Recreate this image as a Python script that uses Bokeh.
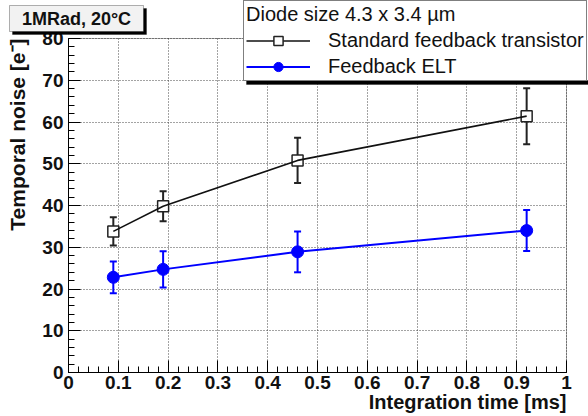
from math import pi
from bokeh.plotting import figure
from bokeh.models import (ColumnDataSource, FixedTicker, Whisker, TeeHead, Label,
                          BoxAnnotation, Legend, LegendItem, Range1d)
from bokeh.embed import file_html
from bokeh.resources import INLINE

# ---- data ----
x_time = [0.09, 0.19, 0.46, 0.92]
noise_standard = [33.8, 39.8, 50.8, 61.4]
err_standard = [3.4, 3.6, 5.4, 6.7]
noise_elt = [22.8, 24.7, 28.9, 34.0]
err_elt = [3.8, 4.35, 4.9, 4.9]

x_ticks = [0, 0.1, 0.2, 0.3, 0.4, 0.5, 0.6, 0.7, 0.8, 0.9, 1]
x_tick_labels = ["0", "0.1", "0.2", "0.3", "0.4", "0.5", "0.6", "0.7", "0.8", "0.9", "1"]
y_ticks = [0, 10, 20, 30, 40, 50, 60, 70, 80]
y_tick_labels = ["0", "10", "20", "30", "40", "50", "60", "70", "80"]
x_minor_step = 0.02
y_minor_step = 2

series_names = ["Standard feedback transistor", "Feedback ELT"]
legend_title = "Diode size 4.3 x 3.4 \u00b5m"
box_title = "1MRad, 20\u00b0C"
x_title = "Integration time [ms]"
y_title = "Temporal noise [e\u207b]"

FONT = "Liberation Sans"
W, H = 588, 416
# frame placement in pixels (plot area of the axes)
FL, FR, FT, FB = 68, 566, 38, 372
XMIN, XMAX = x_ticks[0], x_ticks[-1]
YMIN, YMAX = y_ticks[0], y_ticks[-1]
sx = (FR - FL) / (XMAX - XMIN)
sy = (FB - FT) / (YMAX - YMIN)

src_std = ColumnDataSource(dict(
    x=x_time, y=noise_standard,
    upper=[v + e for v, e in zip(noise_standard, err_standard)],
    lower=[v - e for v, e in zip(noise_standard, err_standard)]))
src_elt = ColumnDataSource(dict(
    x=x_time, y=noise_elt,
    upper=[v + e for v, e in zip(noise_elt, err_elt)],
    lower=[v - e for v, e in zip(noise_elt, err_elt)]))

p = figure(width=W, height=H,
           x_range=Range1d(XMIN - FL / sx, XMAX + (W - FR) / sx),
           y_range=Range1d(YMIN - (H - FB) / sy, YMAX + FT / sy),
           output_backend="svg", toolbar_location=None,
           min_border=0, min_border_left=0, min_border_right=0,
           min_border_top=0, min_border_bottom=0)
p.background_fill_color = "white"
p.border_fill_color = "white"
p.outline_line_color = None

# axes, pinned at the data origin so the plot area can hold the overlays
nmx = int(round((XMAX - XMIN) / x_minor_step))
nmy = int(round((YMAX - YMIN) / y_minor_step))
minor_x = [XMIN + i * x_minor_step for i in range(nmx + 1)]
minor_y = [YMIN + i * y_minor_step for i in range(nmy + 1)]
p.xaxis.fixed_location = YMIN
p.yaxis.fixed_location = XMIN
p.xaxis.bounds = (XMIN, XMAX)
p.yaxis.bounds = (YMIN, YMAX)
p.xaxis.ticker = FixedTicker(ticks=x_ticks, minor_ticks=minor_x)
p.yaxis.ticker = FixedTicker(ticks=y_ticks, minor_ticks=minor_y)
p.xaxis.major_label_overrides = {t: l for t, l in zip(x_ticks, x_tick_labels)}
p.yaxis.major_label_overrides = {t: l for t, l in zip(y_ticks, y_tick_labels)}
for ax in (p.xaxis[0], p.yaxis[0]):
    ax.axis_line_color = "black"
    ax.axis_line_width = 1
    ax.major_tick_in = 12
    ax.major_tick_out = 0
    ax.minor_tick_in = 6
    ax.minor_tick_out = 0
    ax.major_tick_line_color = "black"
    ax.minor_tick_line_color = "black"
    ax.major_label_text_font = FONT
    ax.major_label_text_font_style = "bold"
    ax.major_label_text_font_size = "19px"
    ax.major_label_text_color = "#111111"
p.xaxis.major_label_standoff = 3
p.yaxis.major_label_standoff = 5

# grid, limited to the plot area
p.xgrid.ticker = FixedTicker(ticks=x_ticks)
p.ygrid.ticker = FixedTicker(ticks=y_ticks)
p.xgrid.bounds = (XMIN, XMAX)
p.ygrid.bounds = (YMIN, YMAX)
use_segments = True
try:
    p.xgrid.cross_bounds = (YMIN, YMAX)
    p.ygrid.cross_bounds = (XMIN, XMAX)
    use_segments = False
except Exception:
    pass
for g in (p.xgrid[0], p.ygrid[0]):
    g.grid_line_color = "#333333"
    g.grid_line_dash = "1 2"
    g.grid_line_width = 1
    g.grid_line_alpha = 0.9
if use_segments:
    p.xgrid.visible = False
    p.ygrid.visible = False
    p.segment(x0=x_ticks, x1=x_ticks, y0=[YMIN] * len(x_ticks), y1=[YMAX] * len(x_ticks),
              line_color="#333333", line_dash="1 2", line_alpha=0.9, level="underlay")
    p.segment(x0=[XMIN] * len(y_ticks), x1=[XMAX] * len(y_ticks), y0=y_ticks, y1=y_ticks,
              line_color="#333333", line_dash="1 2", line_alpha=0.9, level="underlay")

# frame box (top/right edges)
p.add_layout(BoxAnnotation(left=XMIN, right=XMAX, bottom=YMIN, top=YMAX,
                           fill_alpha=0, line_color="black", line_width=1,
                           level="underlay"))

# error bars (below markers)
p.add_layout(Whisker(source=src_std, base="x", upper="upper", lower="lower",
                     line_color="#222222", line_width=2, level="underlay",
                     upper_head=TeeHead(size=7, line_color="#222222", line_width=2),
                     lower_head=TeeHead(size=7, line_color="#222222", line_width=2)))
p.add_layout(Whisker(source=src_elt, base="x", upper="upper", lower="lower",
                     line_color="#0000ff", line_width=2, level="underlay",
                     upper_head=TeeHead(size=7, line_color="#0000ff", line_width=2),
                     lower_head=TeeHead(size=7, line_color="#0000ff", line_width=2)))

sq = p.scatter("x", "y", source=src_std, marker="square", size=11,
               fill_color="white", line_color="#222222", line_width=1.5)
ln_std = p.line("x", "y", source=src_std, line_color="#111111", line_width=1.6)
ln_elt = p.line("x", "y", source=src_elt, line_color="#0000ff", line_width=2)
ci = p.scatter("x", "y", source=src_elt, marker="circle", size=12,
               fill_color="#0000ff", line_color="#0000ff")

def cbox(l, r, t, b, **kw):
    return BoxAnnotation(left=l, right=r, top=t, bottom=b,
                         left_units="canvas", right_units="canvas",
                         top_units="canvas", bottom_units="canvas", **kw)

# title box with shadow
p.add_layout(cbox(12, 146, 8, 34, fill_color="black", fill_alpha=1, line_color="black"))
p.add_layout(cbox(9, 143, 5, 31, fill_color="#f2f2f2", fill_alpha=1,
                  line_color="black", line_width=1))
p.add_layout(Label(x=76, y=18, x_units="canvas", y_units="canvas",
                   text=box_title, text_font=FONT, text_font_style="bold",
                   text_font_size="18px", text_align="center",
                   text_baseline="middle", text_color="#111111"))

# legend shadow + legend
p.add_layout(cbox(246, 600, 80, 84, fill_color="black", fill_alpha=1, line_color="black"))
legend = Legend(items=[LegendItem(label=series_names[0], renderers=[ln_std, sq]),
                       LegendItem(label=series_names[1], renderers=[ln_elt, ci])],
                location=(243, H - 81), title=legend_title,
                title_text_font=FONT, title_text_font_size="20px",
                title_text_font_style="normal", title_text_color="#111111",
                title_standoff=3,
                label_text_font=FONT, label_text_font_size="20px",
                label_text_color="#111111",
                glyph_width=64, glyph_height=23, label_standoff=18,
                label_height=23, spacing=3, padding=2, margin=0,
                border_line_color="black", border_line_width=1,
                background_fill_color="white", background_fill_alpha=1)
p.add_layout(legend)

# axis titles
p.add_layout(Label(x=566, y=401, x_units="canvas", y_units="canvas",
                   text=x_title, text_font=FONT, text_font_style="bold",
                   text_font_size="20px", text_align="right",
                   text_baseline="middle", text_color="#111111"))
p.add_layout(Label(x=17, y=38, x_units="canvas", y_units="canvas",
                   text=y_title, angle=pi / 2, text_font=FONT,
                   text_font_style="bold", text_font_size="21px",
                   text_align="right", text_baseline="middle",
                   text_color="#111111"))

open("out.html", "w").write(file_html(p, INLINE))
